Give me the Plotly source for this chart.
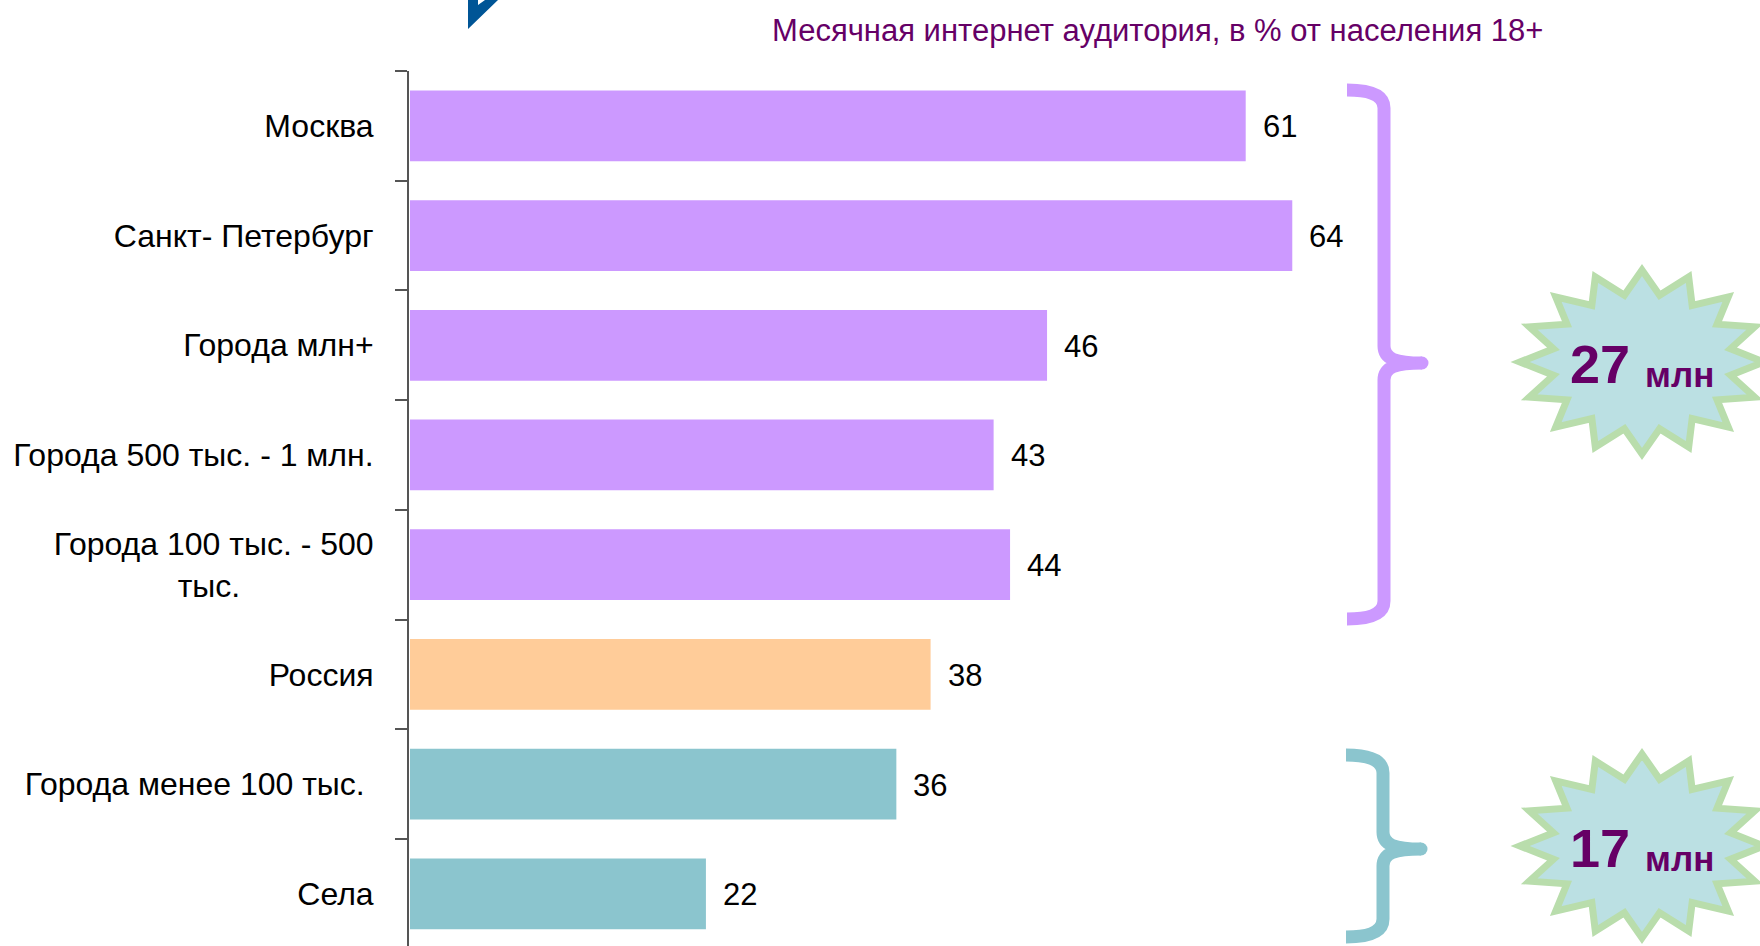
import math
import plotly.graph_objects as go

W, H = 1760, 946

categories = ["Москва", "Санкт- Петербург", "Города млн+", "Города 500 тыс. - 1 млн.",
              "Города 100 тыс. - 500<br>тыс." + "\u00a0" * 15, "Россия",
              "Города менее 100 тыс.\u00a0", "Села"]
values = [61.0, 64.4, 46.5, 42.6, 43.8, 38.0, 35.5, 21.6]
labels = ["61", "64", "46", "43", "44", "38", "36", "22"]
colors = ["#CC99FF"] * 5 + ["#FFCC99"] + ["#8BC5CE"] * 2
title_text = "Месячная интернет аудитория, в % от населения 18+"
groups = [("27", "млн"), ("17", "млн")]

FONT = "Liberation Sans, Arial, sans-serif"
PURPLE = "#660066"


def px(x):
    return x / W


def py(y):
    return 1 - y / H


def brace(x0, x1, tipx, top, tip, bottom, color):
    p = (
        f"M {px(x0)} {py(top)} "
        f"C {px(x0 + 25)} {py(top)} {px(x1)} {py(top + 6)} {px(x1)} {py(top + 18)} "
        f"L {px(x1)} {py(tip - 17)} "
        f"C {px(x1)} {py(tip - 4)} {px(x1 + 12)} {py(tip)} {px(tipx)} {py(tip)} "
        f"C {px(x1 + 12)} {py(tip)} {px(x1)} {py(tip + 4)} {px(x1)} {py(tip + 17)} "
        f"L {px(x1)} {py(bottom - 18)} "
        f"C {px(x1)} {py(bottom - 6)} {px(x0 + 25)} {py(bottom)} {px(x0)} {py(bottom)}"
    )
    return [
        dict(type="path", xref="paper", yref="paper", path=p,
             line=dict(color=color, width=13), fillcolor="rgba(0,0,0,0)"),
        dict(type="circle", xref="paper", yref="paper",
             x0=px(tipx - 6.5), x1=px(tipx + 6.5), y0=py(tip + 6.5), y1=py(tip - 6.5),
             fillcolor=color, line=dict(width=0)),
    ]


def star(cx, cy):
    a, b, f, n = 122, 92, 0.74, 16
    pts = []
    for i in range(2 * n):
        t = math.pi * i / n
        r = 1 if i % 2 == 0 else f
        pts.append((cx + a * r * math.cos(t), cy + b * r * math.sin(t)))
    d = "M " + " L ".join(f"{px(x)} {py(y)}" for x, y in pts) + " Z"
    return dict(type="path", xref="paper", yref="paper", path=d,
                fillcolor="#BBE0E3", line=dict(color="#B9DDAC", width=7))


fig = go.Figure(go.Bar(
    y=categories, x=values, orientation="h", width=0.645,
    marker=dict(color=colors, line=dict(width=0)), showlegend=False,
))

shapes = []
shapes += brace(1347, 1384, 1422, 90, 363, 619, "#CC99FF")
shapes += brace(1346, 1383, 1421, 755, 849, 937, "#8BC5CE")
shapes += [star(1642, 362), star(1642, 846)]
logo = [(468, 0), (468, 29), (498, 0), (485, 0), (478, 5), (478, 0)]
shapes.append(dict(type="path", xref="paper", yref="paper",
                   path="M " + " L ".join(f"{px(x)} {py(y)}" for x, y in logo) + " Z",
                   fillcolor="#005596", line=dict(width=0)))

annotations = [
    dict(xref="x", yref="y", x=v, y=c, text=t, showarrow=False, xanchor="left",
         xshift=15, yshift=-1, font=dict(family=FONT, size=31, color="black"))
    for v, c, t in zip(values, categories, labels)
]
annotations.append(dict(xref="paper", yref="paper", x=px(1157), y=py(30), text=title_text,
                        showarrow=False, xanchor="center", yanchor="middle",
                        font=dict(family=FONT, size=31, color=PURPLE)))
for (num, unit), cy in zip(groups, (364, 848)):
    annotations.append(dict(xref="paper", yref="paper", x=px(1600), y=py(cy), text=f"<b>{num}</b>",
                            showarrow=False, xanchor="center", yanchor="middle",
                            font=dict(family=FONT, size=54, color=PURPLE)))
    annotations.append(dict(xref="paper", yref="paper", x=px(1679), y=py(cy + 10), text=f"<b>{unit}</b>",
                            showarrow=False, xanchor="center", yanchor="middle",
                            font=dict(family=FONT, size=35, color=PURPLE)))

fig.update_layout(
    width=W, height=H, margin=dict(l=0, r=0, t=0, b=0),
    paper_bgcolor="white", plot_bgcolor="white", bargap=0.36,
    shapes=shapes, annotations=annotations,
    xaxis=dict(domain=[410 / W, 1], range=[0, (W - 410) / 13.7], visible=False, automargin=False),
    yaxis=dict(
        domain=[0, 1 - 71 / H], anchor="free", position=408 / W, automargin=False,
        range=[7.476, -0.5], type="category", categoryorder="array", categoryarray=categories,
        showline=True, linecolor="#555555", linewidth=2,
        ticks="outside", ticklen=12, tickcolor="#555555", tickwidth=2, tickson="boundaries",
        showgrid=False, zeroline=False, ticklabelstandoff=27,
        tickfont=dict(family=FONT, size=32, color="black"),
    ),
)

fig.write_html("out.html", config={"displayModeBar": False},
               post_script="document.body.style.margin='0';document.body.style.overflow='hidden';")
